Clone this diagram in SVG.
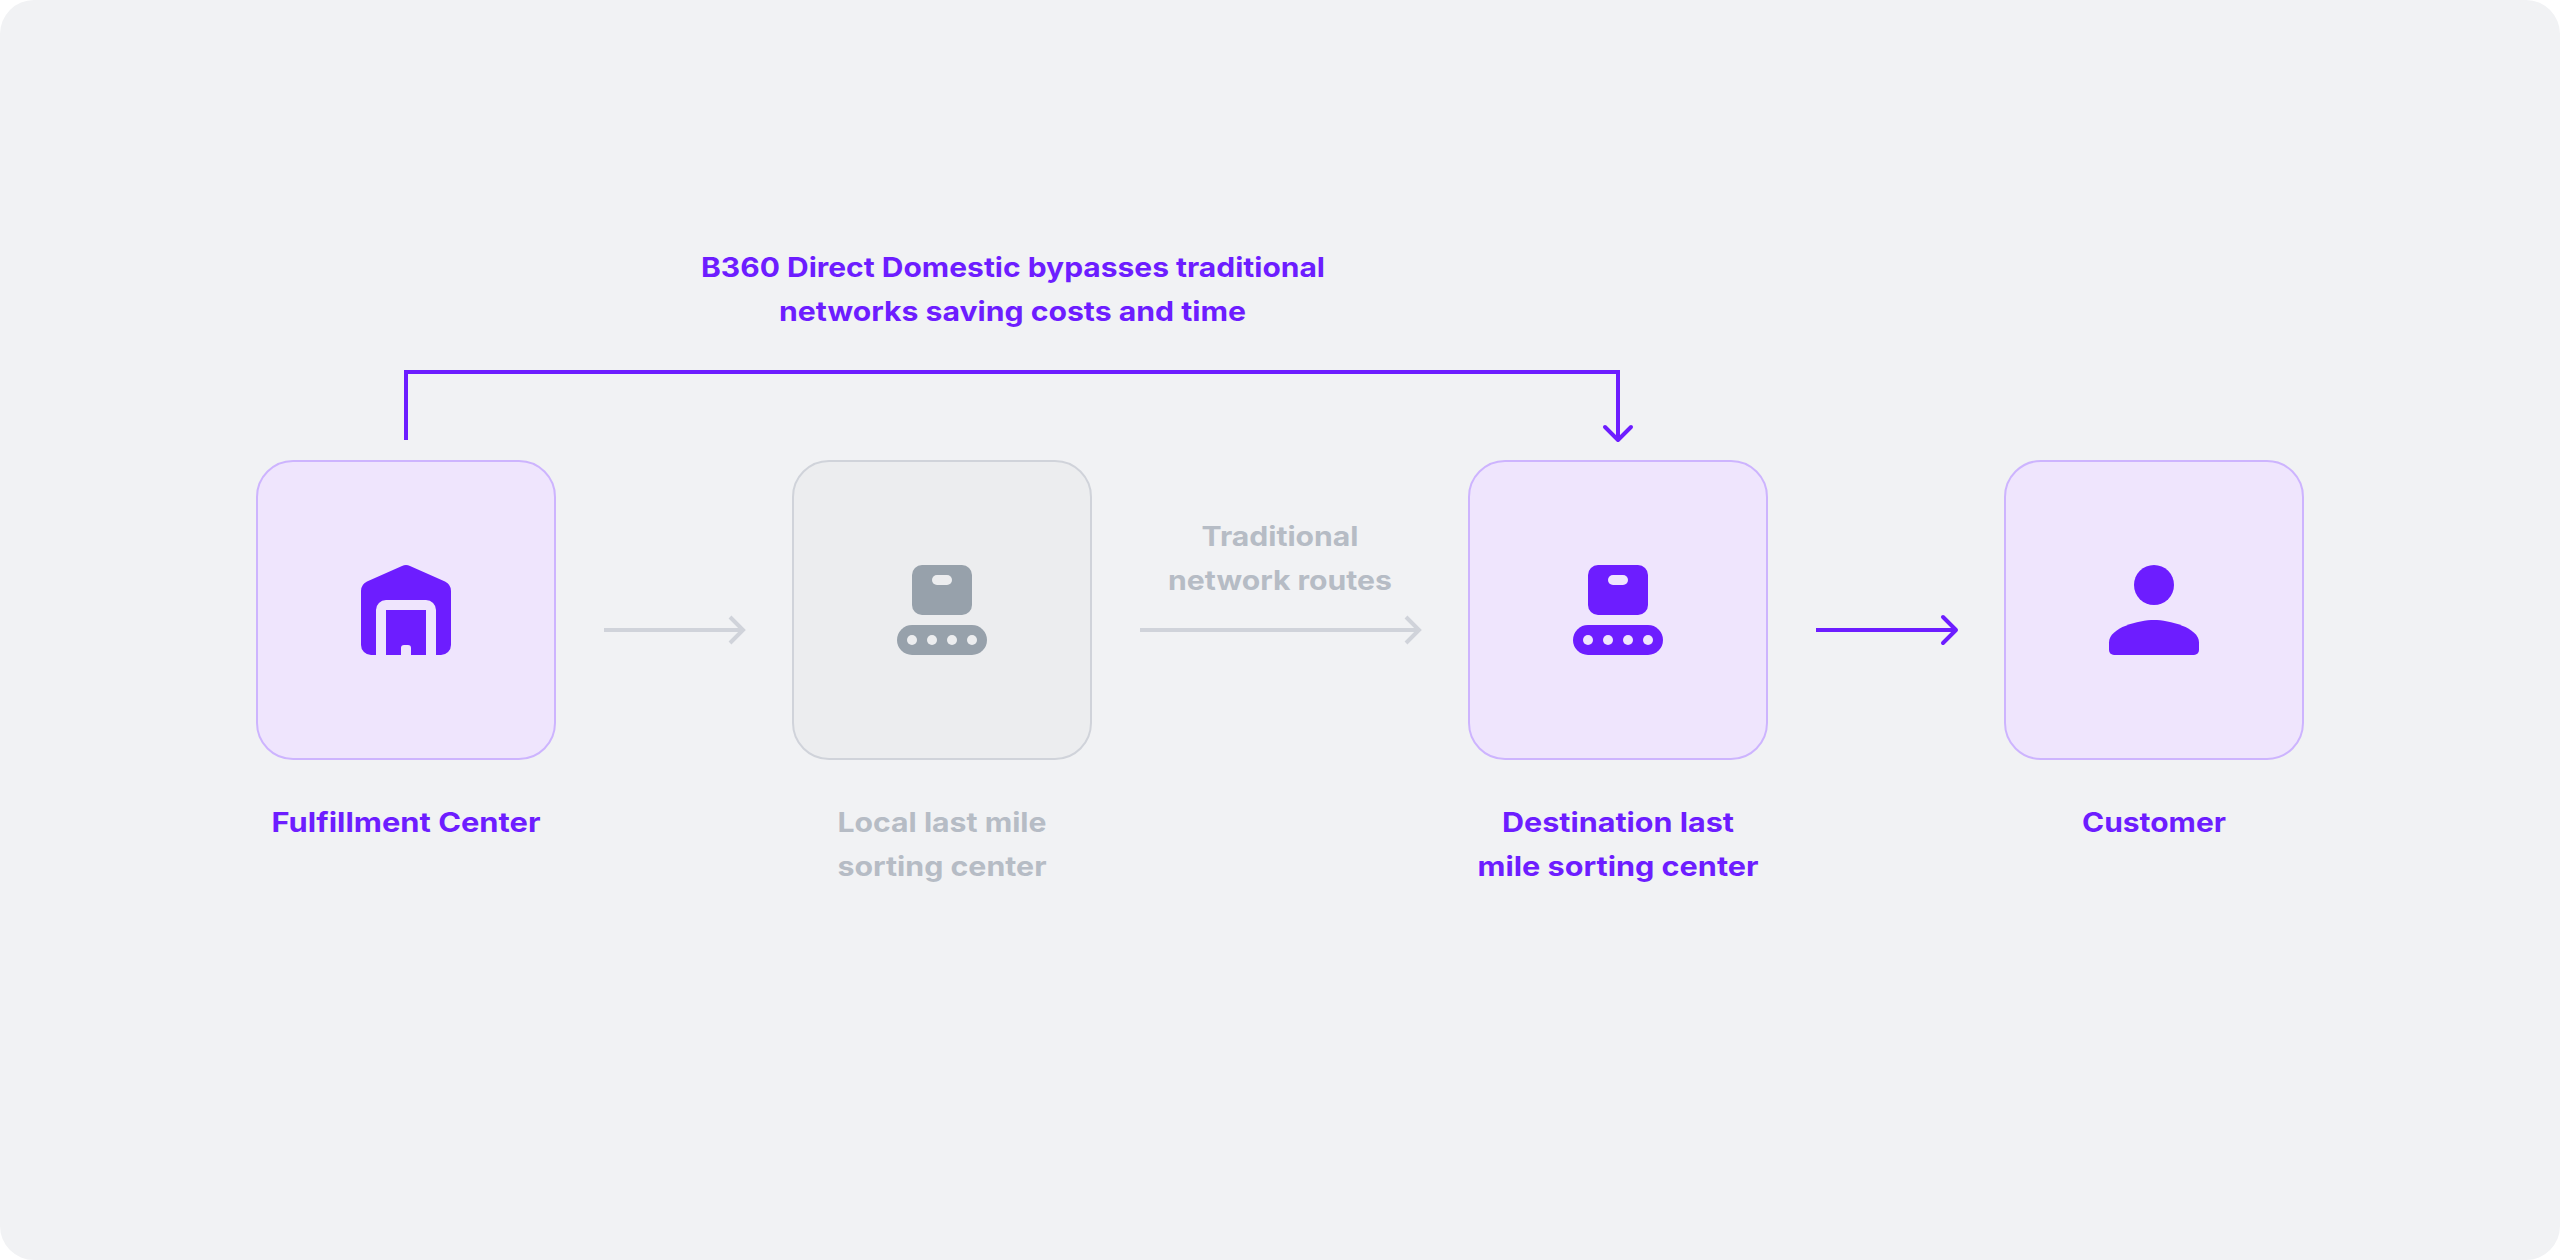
<svg xmlns="http://www.w3.org/2000/svg" width="2560" height="1260" viewBox="0 0 2560 1260">
<style>
.card{stroke-width:2}
.p{fill:#EFE5FD;stroke:#CDB4FE}
.g{fill:#ECEDEF;stroke:#D0D3DA}
.ip{fill:#6D1DFF}
.ig{fill:#97A1AB}
.hp{fill:#EFE5FD}
.hg{fill:#ECEDEF}
text{font-family:"Inter","Liberation Sans",sans-serif;font-weight:700;font-size:27px;text-anchor:middle}
.tp{fill:#6D1DFF}
.tg{fill:#B6BCC5}
.cp{fill:none;stroke:#6D1DFF;stroke-width:4}
.hd{fill:none;stroke:#6D1DFF;stroke-width:4;stroke-linecap:round;stroke-linejoin:round}
.cg{fill:none;stroke:#D0D3DA;stroke-width:4}
</style>
<rect width="2560" height="1260" fill="#FFFFFF"/>
<rect width="2560" height="1260" rx="34" fill="#F1F2F4"/>
<g id="connectors">
<path class="cp" d="M406 440V372H1618V440"/>
<path class="hd" d="M1605 427L1618 440L1631 427"/>
<path class="cg" d="M604 630H743"/>
<path class="cg" d="M730 617L743 630L730 643"/>
<path class="cg" d="M1140 630H1419"/>
<path class="cg" d="M1406 617L1419 630L1406 643"/>
<path class="cp" d="M1816 630H1956"/>
<path class="hd" d="M1943 617L1956 630L1943 643"/>
</g>
<g id="annotation">
<text class="tp" x="1013" y="277" textLength="624" lengthAdjust="spacingAndGlyphs">B360 Direct Domestic bypasses traditional</text>
<text class="tp" x="1012.500" y="321" textLength="467" lengthAdjust="spacingAndGlyphs">networks saving costs and time</text>
</g>
<g id="route-label">
<text class="tg" x="1280" y="546" textLength="157" lengthAdjust="spacingAndGlyphs">Traditional</text>
<text class="tg" x="1280" y="590" textLength="224" lengthAdjust="spacingAndGlyphs">network routes</text>
</g>
<g id="fulfillment-center">
<rect class="card p" x="257" y="461" width="298" height="298" rx="36"/>
<path class="ip" d="M402 566Q406 564 410 566L445 581.500Q451 584.500 451 591V645A10 10 0 0 1 441 655H436V610A10 10 0 0 0 426 600H386A10 10 0 0 0 376 610V655H371A10 10 0 0 1 361 645V591Q361 584.500 367 581.500Z"/>
<path class="ip" d="M386 610H426V655H411V648Q411 645 408 645H404Q401 645 401 648V655H386Z"/>
<text class="tp" x="406" y="832" textLength="269" lengthAdjust="spacingAndGlyphs">Fulfillment Center</text>
</g>
<g id="local-sorting-center">
<rect class="card g" x="793" y="461" width="298" height="298" rx="36"/>
<rect class="ig" x="912" y="565" width="60" height="50" rx="10"/>
<rect class="hg" x="932" y="575" width="20" height="10" rx="5"/>
<rect class="ig" x="897" y="625" width="90" height="30" rx="15"/>
<circle class="hg" cx="912" cy="640" r="5"/>
<circle class="hg" cx="932" cy="640" r="5"/>
<circle class="hg" cx="952" cy="640" r="5"/>
<circle class="hg" cx="972" cy="640" r="5"/>
<text class="tg" x="942" y="832" textLength="209" lengthAdjust="spacingAndGlyphs">Local last mile</text>
<text class="tg" x="942" y="876" textLength="209" lengthAdjust="spacingAndGlyphs">sorting center</text>
</g>
<g id="destination-sorting-center">
<rect class="card p" x="1469" y="461" width="298" height="298" rx="36"/>
<rect class="ip" x="1588" y="565" width="60" height="50" rx="10"/>
<rect class="hp" x="1608" y="575" width="20" height="10" rx="5"/>
<rect class="ip" x="1573" y="625" width="90" height="30" rx="15"/>
<circle class="hp" cx="1588" cy="640" r="5"/>
<circle class="hp" cx="1608" cy="640" r="5"/>
<circle class="hp" cx="1628" cy="640" r="5"/>
<circle class="hp" cx="1648" cy="640" r="5"/>
<text class="tp" x="1618" y="832" textLength="232" lengthAdjust="spacingAndGlyphs">Destination last</text>
<text class="tp" x="1618" y="876" textLength="281" lengthAdjust="spacingAndGlyphs">mile sorting center</text>
</g>
<g id="customer">
<rect class="card p" x="2005" y="461" width="298" height="298" rx="36"/>
<circle class="ip" cx="2154" cy="585" r="20"/>
<path class="ip" d="M2109 642.500C2109 627.500 2139 620 2154 620C2169 620 2199 627.500 2199 642.500V650A5 5 0 0 1 2194 655H2114A5 5 0 0 1 2109 650Z"/>
<text class="tp" x="2154" y="832" textLength="144" lengthAdjust="spacingAndGlyphs">Customer</text>
</g>
</svg>
